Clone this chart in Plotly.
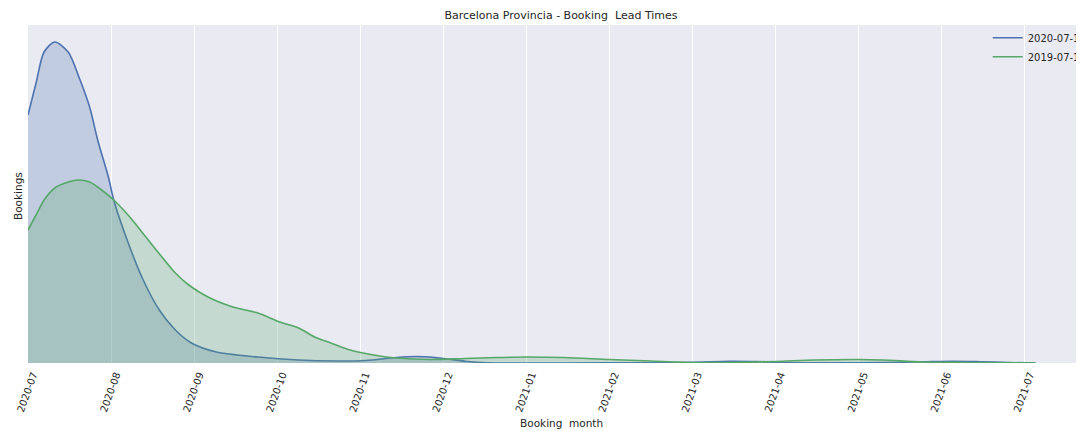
import calendar
import plotly.graph_objects as go

# etiquetas del eje x (un tick por mes, equiespaciados)
meses = ['2020-07', '2020-08', '2020-09', '2020-10', '2020-11', '2020-12', '2021-01',
         '2021-02', '2021-03', '2021-04', '2021-05', '2021-06', '2021-07']

# fechas de reserva (eje x) y densidad relativa de reservas para cada campaña
fechas_2020 = ['2020-07-01', '2020-07-04', '2020-07-07', '2020-07-11', '2020-07-16', '2020-07-20',
               '2020-07-24', '2020-07-27', '2020-07-31', '2020-08-02', '2020-08-07', '2020-08-13',
               '2020-08-19', '2020-08-25', '2020-08-31', '2020-09-09', '2020-09-24', '2020-10-09',
               '2020-10-23', '2020-11-03', '2020-11-14', '2020-11-21', '2020-11-28', '2020-12-04',
               '2020-12-10', '2020-12-17', '2021-01-15', '2021-02-15', '2021-03-01', '2021-03-15',
               '2021-03-25', '2021-04-05', '2021-04-20', '2021-05-10', '2021-05-25', '2021-06-05',
               '2021-06-15', '2021-06-25', '2021-07-05']
bookings_2020 = [248, 280, 311, 321, 311, 286,
                 256, 223, 186, 163, 123, 83,
                 53, 33, 20, 11, 6, 3,
                 2, 2.5, 5.5, 6.5, 5.5, 3.5,
                 1.5, 0.3, 0, 0.3, 0.8, 1.8,
                 1.5, 0.5, 0.2, 0.4, 1.2, 1.8,
                 1.3, 0.5, 0]

fechas_2019 = ['2020-07-01', '2020-07-04', '2020-07-07', '2020-07-11', '2020-07-16', '2020-07-20',
               '2020-07-24', '2020-07-27', '2020-08-02', '2020-08-08', '2020-08-14', '2020-08-20',
               '2020-08-25', '2020-08-30', '2020-09-06', '2020-09-15', '2020-09-24', '2020-10-02',
               '2020-10-09', '2020-10-15', '2020-10-21', '2020-10-27', '2020-11-02', '2020-11-08',
               '2020-11-14', '2020-11-26', '2020-12-09', '2020-12-21', '2021-01-01', '2021-01-15',
               '2021-02-01', '2021-02-15', '2021-03-01', '2021-03-15', '2021-04-01', '2021-04-15',
               '2021-05-01', '2021-05-10', '2021-05-25', '2021-06-10', '2021-07-05']
bookings_2019 = [133, 148, 163, 175, 181, 183,
                 181, 176, 163, 146, 126, 106,
                 90, 78, 66, 56, 50, 41,
                 35, 26, 20, 14, 10, 7,
                 5, 3.5, 4.5, 5.5, 6, 5.5,
                 3.5, 2, 0.5, 0.5, 1.5, 3,
                 3.5, 3, 1, 0.5, 0]


def a_mes(fecha):
    # fecha 'YYYY-MM-DD' -> posición en meses desde 2020-07 (el eje del original es por meses)
    y, m, d = (int(p) for p in fecha.split('-'))
    return (y - 2020) * 12 + (m - 7) + (d - 1) / calendar.monthrange(y, m)[1]


series = [
    ('2020-07-11', fechas_2020, bookings_2020, '#4C72B0', 'rgba(76,114,176,0.25)'),
    ('2019-07-11', fechas_2019, bookings_2019, '#55A868', 'rgba(85,168,104,0.25)'),
]

fig = go.Figure()
for nombre, fechas, valores, color, relleno in series:
    # área rellena (kde)
    fig.add_trace(go.Scatter(x=[a_mes(f) for f in fechas], y=valores, name=nombre, showlegend=False,
                             text=fechas, hovertemplate='%{text}: %{y}<extra></extra>',
                             mode='lines', line=dict(color=color, width=1.6, shape='spline', smoothing=0.8),
                             fill='tozeroy', fillcolor=relleno))
    # entrada de leyenda sólo con la línea
    fig.add_trace(go.Scatter(x=[None], y=[None], name=nombre, mode='lines',
                             line=dict(color=color, width=1.6)))

# la página html añade 8px de margen al body, se compensa aquí
fig.update_layout(
    width=1084, height=431,
    margin=dict(l=20, r=0, t=17, b=76, autoexpand=False),
    paper_bgcolor='white', plot_bgcolor='#EAEAF2',
    font=dict(family='DejaVu Sans', color='#262626', size=10),
    title=dict(text='Barcelona Provincia - Booking  Lead Times', x=553 / 1084, xref='container',
               xanchor='center', y=1 - 7 / 431, yref='container', yanchor='middle', font=dict(size=11)),
    legend=dict(x=0.902, y=1.005, xanchor='left', yanchor='top', bgcolor='rgba(0,0,0,0)',
                font=dict(size=10), tracegroupgap=0),
    showlegend=True,
    annotations=[
        dict(text='Booking  month', xref='paper', yref='paper', x=0.501, y=0,
             yshift=-60, xanchor='center', yanchor='middle', showarrow=False, font=dict(size=10.5)),
        dict(text='Bookings', xref='paper', yref='paper', x=0, y=0.494, xshift=-10,
             xanchor='center', yanchor='middle', textangle=-90, showarrow=False, font=dict(size=10.5)),
    ],
)

fig.update_xaxes(range=[0, 12.81], tickvals=list(range(len(meses))), ticktext=meses,
                 tickangle=-70, ticklabelshift=5, ticklabelstandoff=3,
                 showgrid=True, gridcolor='white', gridwidth=1, zeroline=False,
                 ticks='', showline=False, automargin=False)
fig.update_yaxes(range=[0, 338], showticklabels=False, showgrid=False, zeroline=False, ticks='',
                 automargin=False)

fig.write_html("out.html")
